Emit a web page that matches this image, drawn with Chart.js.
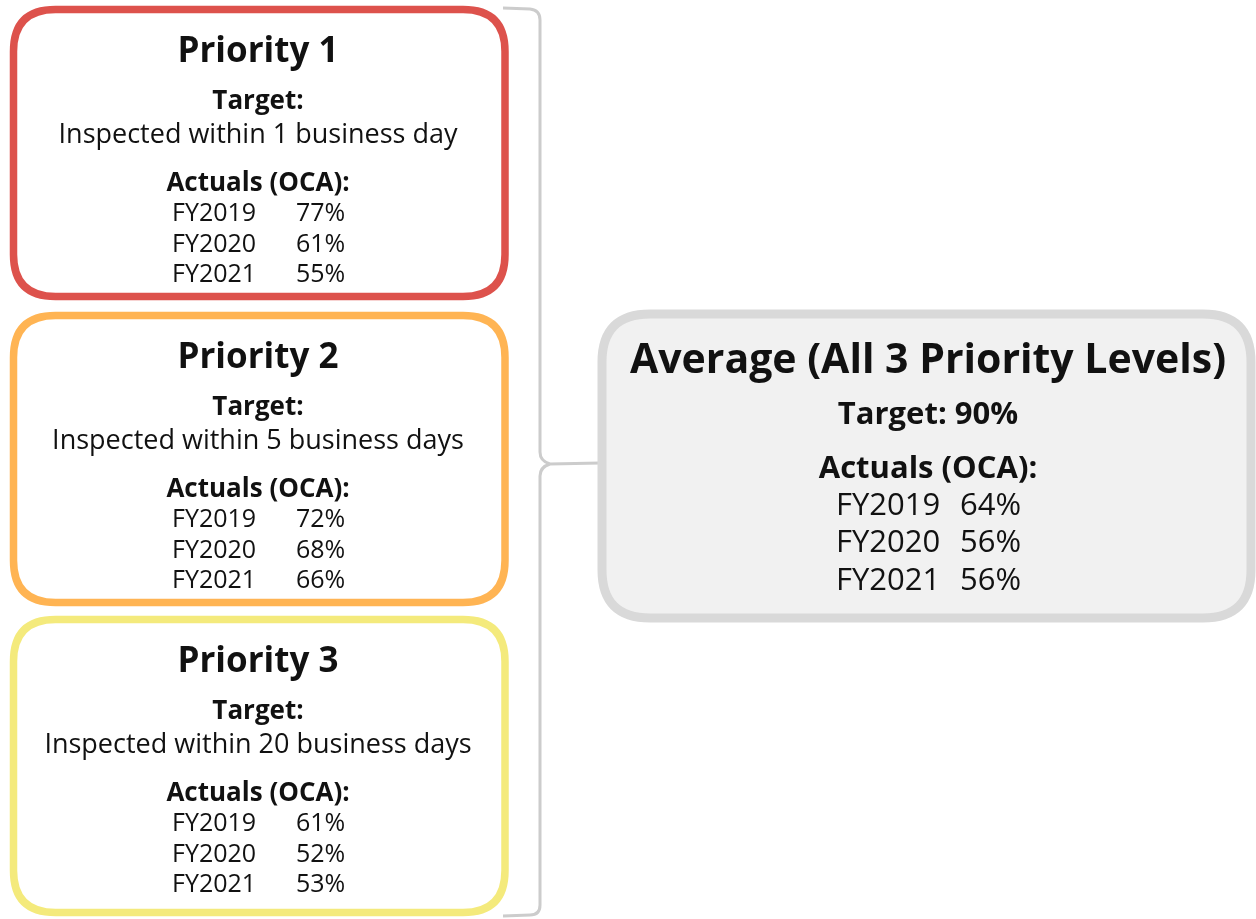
<!DOCTYPE html>
<html>
<head>
<meta charset="utf-8">
<script src="https://cdn.jsdelivr.net/npm/chart.js@4.4.1/dist/chart.umd.min.js"></script>
<style>
  html, body { margin: 0; padding: 0; background: #ffffff; }
  #wrap { width: 1256px; height: 919px; }
</style>
</head>
<body>
<div id="wrap"><canvas id="chartPrioridades" width="1256" height="919"></canvas></div>
<script>
// data
const priorities = ['Priority 1', 'Priority 2', 'Priority 3'];
const targets = [
  'Inspected within 1 business day',
  'Inspected within 5 business days',
  'Inspected within 20 business days'
];
const fiscalYears = ['FY2019', 'FY2020', 'FY2021'];
const priority1 = [77, 61, 55];
const priority2 = [72, 68, 66];
const priority3 = [61, 52, 53];
const averageTitle = 'Average (All 3 Priority Levels)';
const averageTarget = 90;
const averageActuals = [64, 56, 56];
const actualsLabel = 'Actuals (OCA):';

const seriesByPriority = [priority1, priority2, priority3];

// box layout, in axis units (the axes run 0..1256 x 0..919)
const boxColors = ['#dd524c', '#ffb453', '#f4ea7c'];
const boxTops = [6, 312, 616];
const boxBottoms = [300, 606, 916];

function roundBox(ctx, x1, y1, x2, y2, r) {
  ctx.beginPath();
  ctx.moveTo(x1 + r, y1);
  ctx.lineTo(x2 - r, y1);
  ctx.quadraticCurveTo(x2, y1, x2, y1 + r);
  ctx.lineTo(x2, y2 - r);
  ctx.quadraticCurveTo(x2, y2, x2 - r, y2);
  ctx.lineTo(x1 + r, y2);
  ctx.quadraticCurveTo(x1, y2, x1, y2 - r);
  ctx.lineTo(x1, y1 + r);
  ctx.quadraticCurveTo(x1, y1, x1 + r, y1);
  ctx.closePath();
}

function text(ctx, str, x, y, font, align) {
  ctx.save();
  ctx.font = font;
  ctx.fillStyle = '#111111';
  ctx.textAlign = align || 'center';
  ctx.textBaseline = 'middle';
  ctx.fillText(str, x, y);
  ctx.restore();
}

const boxesPlugin = {
  id: 'boxes',
  afterDatasetsDraw(chart) {
    const ctx = chart.ctx;
    const sx = chart.scales.x, sy = chart.scales.y;
    const X = v => sx.getPixelForValue(v);
    const Y = v => sy.getPixelForValue(v);

    // priority boxes
    priorities.forEach((name, i) => {
      const top = boxTops[i];
      ctx.save();
      roundBox(ctx, X(13.5), Y(top + 3.5), X(505), Y(boxBottoms[i] - 3.5), 42);
      ctx.fillStyle = '#ffffff';
      ctx.fill();
      ctx.lineWidth = 7.5;
      ctx.strokeStyle = boxColors[i];
      ctx.stroke();
      ctx.restore();

      const cx = X(258);
      text(ctx, name, cx, Y(top + 46), 'bold 35px "Open Sans"');
      text(ctx, 'Target:', cx, Y(top + 96), 'bold 26px "Open Sans"');
      text(ctx, targets[i], cx, Y(top + 129), '27px "Open Sans"');
      text(ctx, actualsLabel, cx, Y(top + 178), 'bold 26px "Open Sans"');
      fiscalYears.forEach((fy, j) => {
        const yy = Y(top + 208 + j * 30.5);
        text(ctx, fy, X(172), yy, '25px "Open Sans"', 'left');
        text(ctx, seriesByPriority[i][j] + '%', X(296), yy, '25px "Open Sans"', 'left');
      });
    });

    // bracket
    ctx.save();
    ctx.strokeStyle = '#cccccc';
    ctx.lineWidth = 3;
    ctx.beginPath();
    ctx.moveTo(X(503), Y(8));
    ctx.lineTo(X(530), Y(9));
    ctx.quadraticCurveTo(X(540), Y(10), X(540), Y(20));
    ctx.lineTo(X(540), Y(452));
    ctx.quadraticCurveTo(X(540), Y(461), X(550), Y(464));
    ctx.quadraticCurveTo(X(540), Y(467), X(540), Y(476));
    ctx.lineTo(X(540), Y(905));
    ctx.quadraticCurveTo(X(540), Y(915), X(530), Y(915));
    ctx.lineTo(X(503), Y(916));
    ctx.moveTo(X(550), Y(464));
    ctx.lineTo(X(600), Y(463));
    ctx.stroke();
    ctx.restore();

    // average box
    ctx.save();
    roundBox(ctx, X(602), Y(314), X(1251), Y(618), 48);
    ctx.fillStyle = '#f1f1f1';
    ctx.fill();
    ctx.lineWidth = 9;
    ctx.strokeStyle = '#d9d9d9';
    ctx.stroke();
    ctx.restore();

    const ax = X(928);
    text(ctx, averageTitle, ax, Y(361), 'bold 41px "Open Sans"');
    text(ctx, 'Target: ' + averageTarget + '%', ax, Y(415), 'bold 31px "Open Sans"');
    text(ctx, actualsLabel, ax, Y(469), 'bold 31px "Open Sans"');
    fiscalYears.forEach((fy, j) => {
      const yy = Y(506 + j * 37.5);
      text(ctx, fy, X(836), yy, '31px "Open Sans"', 'left');
      text(ctx, averageActuals[j] + '%', X(960), yy, '31px "Open Sans"', 'left');
    });
  }
};

const ctx = document.getElementById('chartPrioridades');
new Chart(ctx, {
  type: 'scatter',
  data: { datasets: [{ data: [], pointRadius: 0 }] },
  options: {
    responsive: false,
    animation: false,
    events: [],
    layout: { padding: 0 },
    plugins: { legend: { display: false }, tooltip: { enabled: false } },
    scales: {
      x: { type: 'linear', min: 0, max: 1256, display: false },
      y: { type: 'linear', min: 0, max: 919, reverse: true, display: false }
    }
  },
  plugins: [boxesPlugin]
});
</script>
</body>
</html>
